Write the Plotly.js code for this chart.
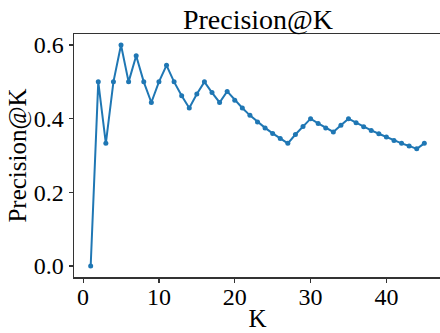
<!DOCTYPE html>
<html>
<head>
<meta charset="utf-8">
<script src="https://cdn.plot.ly/plotly-3.0.1.min.js"></script>
<style>html,body{margin:0;padding:0;overflow:hidden;background:#fff;}</style>
</head>
<body>
<div id="chart"></div>
<script>
const kValues = [1,2,3,4,5,6,7,8,9,10,11,12,13,14,15,16,17,18,19,20,21,22,23,24,25,26,27,28,29,30,31,32,33,34,35,36,37,38,39,40,41,42,43,44,45];
const precision = [0.0,0.5,0.333,0.5,0.6,0.5,0.571,0.5,0.444,0.5,0.545,0.5,0.462,0.429,0.467,0.5,0.471,0.444,0.474,0.45,0.429,0.409,0.391,0.375,0.36,0.346,0.333,0.357,0.379,0.4,0.387,0.375,0.364,0.382,0.4,0.389,0.378,0.368,0.359,0.35,0.341,0.333,0.326,0.318,0.333];
const xTicks = [0,10,20,30,40];
const yTicks = [0.0,0.2,0.4,0.6];
const yTickLabels = ['0.0','0.2','0.4','0.6'];

const font = 'Liberation Serif, Times New Roman, serif';
const trace = {
  x: kValues, y: precision, type: 'scatter', mode: 'lines+markers',
  line: {color: '#1f77b4', width: 2},
  marker: {color: '#1f77b4', size: 5},
  hoverinfo: 'none'
};
const layout = {
  width: 441, height: 333,
  margin: {l: 74, r: 0, t: 34, b: 56},
  paper_bgcolor: '#fff', plot_bgcolor: '#fff',
  showlegend: false,
  title: {text: 'Precision@K', font: {family: font, size: 28, color: '#000'}, x: 0.585, xanchor: 'center', y: 0.972, yanchor: 'top'},
  xaxis: {
    range: [-1.2, 47.2], tickvals: xTicks, ticks: 'outside', ticklen: 4, tickcolor: '#333', tickwidth: 1.2,
    showgrid: false, zeroline: false, showline: true, mirror: true, linecolor: '#333333', linewidth: 1.5,
    ticklabelstandoff: -6,
    tickfont: {family: font, size: 24, color: '#000'},
    title: {text: 'K', font: {family: font, size: 25, color: '#000'}, standoff: 0}
  },
  yaxis: {
    range: [-0.03, 0.63], tickvals: yTicks, ticktext: yTickLabels, ticks: 'outside', ticklen: 4, tickcolor: '#333', tickwidth: 1.2,
    showgrid: false, zeroline: false, showline: true, mirror: true, linecolor: '#333333', linewidth: 1.5,
    tickfont: {family: font, size: 24, color: '#000'},
    title: {text: 'Precision@K', font: {family: font, size: 25, color: '#000'}, standoff: 0}
  }
};
Plotly.newPlot('chart', [trace], layout, {displayModeBar: false, staticPlot: true});
</script>
</body>
</html>
